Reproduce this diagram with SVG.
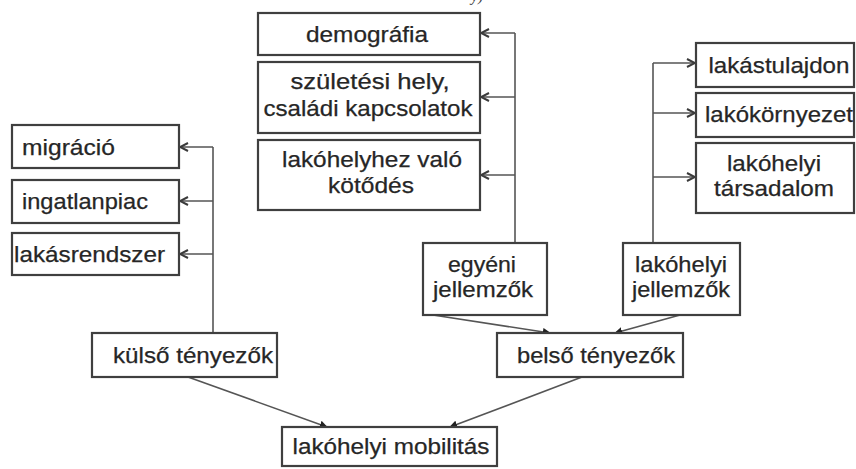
<svg xmlns="http://www.w3.org/2000/svg" width="856" height="469" viewBox="0 0 856 469">
<defs>
<style>
.box{fill:#fff;stroke:#3f3f3f;stroke-width:2.2}
.t{font-family:"Liberation Sans",Arial,sans-serif;font-size:22px;fill:#262626;stroke:#262626;stroke-width:0.25;text-anchor:middle}
.ts{text-anchor:start}
.c{fill:none;stroke:#555;stroke-width:1.6}
</style>
<marker id="open" viewBox="0 0 10 10" refX="9" refY="5" markerWidth="10" markerHeight="10" markerUnits="userSpaceOnUse" orient="auto">
<path d="M1,1 L9,5 L1,9" fill="none" stroke="#3a3a3a" stroke-width="2"/>
</marker>
<marker id="tri" viewBox="0 0 10 10" refX="9" refY="5" markerWidth="8" markerHeight="8" markerUnits="userSpaceOnUse" orient="auto">
<path d="M0,0 L10,5 L0,10 Z" fill="#222"/>
</marker>
</defs>
<rect width="856" height="469" fill="#fff"/>
<text x="471" y="1" font-family="'Liberation Serif',serif" font-style="italic" font-size="16" fill="#444">y)</text>

<g id="connectors">
<path class="c" d="M213,333 V147"/>
<path class="c" d="M213,147 H180" marker-end="url(#open)"/>
<path class="c" d="M213,201 H180" marker-end="url(#open)"/>
<path class="c" d="M213,254 H180" marker-end="url(#open)"/>
<path class="c" d="M515,243 V33"/>
<path class="c" d="M515,33 H481" marker-end="url(#open)"/>
<path class="c" d="M515,97 H481" marker-end="url(#open)"/>
<path class="c" d="M515,175 H481" marker-end="url(#open)"/>
<path class="c" d="M653,243 V63"/>
<path class="c" d="M653,63 H695" marker-end="url(#open)"/>
<path class="c" d="M653,113 H695" marker-end="url(#open)"/>
<path class="c" d="M653,177 H695" marker-end="url(#open)"/>
<path class="c" d="M433,315 L550,333" marker-end="url(#tri)"/>
<path class="c" d="M680,315 L615,333" marker-end="url(#tri)"/>
<path class="c" d="M188,377 L327,427" marker-end="url(#tri)"/>
<path class="c" d="M582,377 L450,427" marker-end="url(#tri)"/>
</g>

<g id="migracio"><rect class="box" x="12" y="125" width="167" height="43"/><text class="t ts" x="22" y="155" textLength="93" lengthAdjust="spacingAndGlyphs">migráció</text></g>
<g id="ingatlanpiac"><rect class="box" x="12" y="180" width="167" height="43"/><text class="t ts" x="22" y="209" textLength="126" lengthAdjust="spacingAndGlyphs">ingatlanpiac</text></g>
<g id="lakasrendszer"><rect class="box" x="12" y="233" width="167" height="42"/><text class="t ts" x="14" y="262" textLength="151" lengthAdjust="spacingAndGlyphs">lakásrendszer</text></g>

<g id="demografia"><rect class="box" x="258" y="13" width="222" height="42"/><text class="t" x="367" y="42" textLength="122" lengthAdjust="spacingAndGlyphs">demográfia</text></g>
<g id="szuletesi"><rect class="box" x="258" y="62" width="222" height="71"/><text class="t" x="370" y="89" textLength="159" lengthAdjust="spacingAndGlyphs">születési hely,</text><text class="t" x="368" y="116" textLength="209" lengthAdjust="spacingAndGlyphs">családi kapcsolatok</text></g>
<g id="lakohelyhez"><rect class="box" x="258" y="140" width="222" height="70"/><text class="t" x="372" y="167" textLength="180" lengthAdjust="spacingAndGlyphs">lakóhelyhez való</text><text class="t" x="371" y="193" textLength="86" lengthAdjust="spacingAndGlyphs">kötődés</text></g>

<g id="lakastulajdon"><rect class="box" x="696" y="43" width="158" height="44"/><text class="t" x="779" y="73" textLength="141" lengthAdjust="spacingAndGlyphs">lakástulajdon</text></g>
<g id="lakokornyezet"><rect class="box" x="696" y="93" width="158" height="44"/><text class="t" x="779" y="122" textLength="148" lengthAdjust="spacingAndGlyphs">lakókörnyezet</text></g>
<g id="tarsadalom"><rect class="box" x="696" y="143" width="158" height="70"/><text class="t" x="774" y="171" textLength="94" lengthAdjust="spacingAndGlyphs">lakóhelyi</text><text class="t" x="774" y="196" textLength="120" lengthAdjust="spacingAndGlyphs">társadalom</text></g>

<g id="egyeni"><rect class="box" x="423" y="243" width="124" height="72"/><text class="t" x="482" y="272" textLength="68" lengthAdjust="spacingAndGlyphs">egyéni</text><text class="t" x="483" y="297" textLength="100" lengthAdjust="spacingAndGlyphs">jellemzők</text></g>
<g id="lakohelyi-jellemzok"><rect class="box" x="623" y="243" width="117" height="72"/><text class="t" x="681" y="272" textLength="92" lengthAdjust="spacingAndGlyphs">lakóhelyi</text><text class="t" x="681" y="297" textLength="98" lengthAdjust="spacingAndGlyphs">jellemzők</text></g>

<g id="kulso"><rect class="box" x="92" y="333" width="185" height="44"/><text class="t" x="193" y="363" textLength="160" lengthAdjust="spacingAndGlyphs">külső tényezők</text></g>
<g id="belso"><rect class="box" x="497" y="333" width="186" height="44"/><text class="t" x="596" y="363" textLength="158" lengthAdjust="spacingAndGlyphs">belső tényezők</text></g>
<g id="mobilitas"><rect class="box" x="282" y="427" width="215" height="39"/><text class="t" x="391" y="454" textLength="197" lengthAdjust="spacingAndGlyphs">lakóhelyi mobilitás</text></g>
</svg>
